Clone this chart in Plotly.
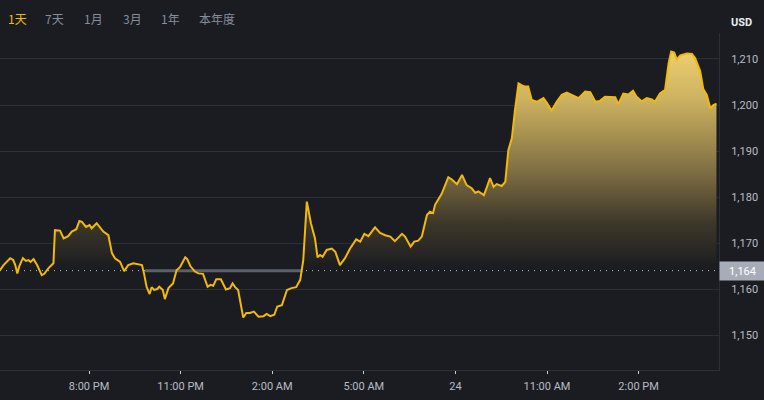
import pandas as pd
import plotly.graph_objects as go

# ---------------- data ----------------
start_time = "2024-10-23 17:00"
minutes = [5, 12, 25, 31, 35, 39, 43, 50, 56, 61,
           65, 71, 78, 87, 92, 100, 110, 113, 123, 130,
           139, 146, 155, 161, 166, 174, 181, 185, 195, 202,
           208, 218, 225, 231, 241, 249, 257, 267, 274, 284,
           288, 293, 299, 303, 308, 314, 318, 325, 329, 336,
           345, 352, 359, 369, 373, 379, 388, 395, 404, 413,
           419, 424, 430, 439, 449, 457, 462, 467, 473, 483,
           489, 496, 504, 513, 523, 529, 536, 544, 550, 559,
           569, 578, 587, 595, 601, 608, 616, 624, 629, 634,
           639, 647, 657, 664, 673, 683, 693, 705, 713, 721,
           729, 742, 752, 762, 772, 781, 795, 801, 812, 819,
           827, 834, 844, 850, 856, 860, 873, 886, 893, 903,
           913, 922, 932, 939, 945, 956, 962, 968, 975, 981,
           991, 998, 1004, 1011, 1017, 1024, 1030, 1037, 1043, 1050,
           1060, 1066, 1073, 1080, 1089, 1099, 1109, 1119, 1129, 1142,
           1155, 1165, 1175, 1184, 1194, 1207, 1214, 1220, 1230, 1240,
           1249, 1256, 1266, 1276, 1286, 1292, 1302, 1312, 1319, 1324,
           1330, 1335, 1342, 1355, 1365, 1371, 1381, 1387, 1394, 1401,
           1407, 1413]
prices = [1164.1, 1165.2, 1166.7, 1166.3, 1165.2, 1163.4, 1165.0, 1166.7, 1166.1, 1166.3,
          1165.9, 1166.5, 1165.2, 1163.0, 1163.3, 1164.5, 1165.6, 1172.8, 1172.7, 1171.0,
          1171.5, 1172.5, 1173.0, 1174.8, 1174.6, 1173.5, 1173.9, 1173.2, 1174.3, 1173.4,
          1172.5, 1171.7, 1167.8, 1166.7, 1165.9, 1163.9, 1165.2, 1165.6, 1165.4, 1165.2,
          1163.4, 1160.5, 1158.9, 1160.4, 1159.8, 1160.0, 1160.5, 1159.8, 1157.8, 1160.2,
          1161.2, 1164.1, 1164.8, 1166.9, 1166.5, 1165.0, 1163.8, 1163.4, 1163.3, 1160.5,
          1160.9, 1160.7, 1162.1, 1162.1, 1159.9, 1160.2, 1161.2, 1160.4, 1159.8, 1153.8,
          1154.8, 1154.8, 1155.1, 1154.0, 1154.1, 1154.6, 1154.1, 1154.4, 1156.2, 1156.5,
          1159.8, 1160.2, 1160.4, 1162.0, 1166.3, 1179.0, 1174.3, 1171.0, 1166.9, 1167.4,
          1167.0, 1168.5, 1168.8, 1168.1, 1165.2, 1166.7, 1168.8, 1170.8, 1170.3, 1172.0,
          1171.5, 1173.4, 1172.2, 1171.7, 1171.4, 1170.4, 1172.0, 1171.4, 1169.2, 1170.3,
          1170.5, 1171.4, 1176.1, 1176.8, 1176.5, 1178.3, 1180.7, 1184.3, 1183.8, 1182.8,
          1184.8, 1182.6, 1181.9, 1180.9, 1181.2, 1180.4, 1182.2, 1184.1, 1182.2, 1182.8,
          1182.4, 1183.3, 1190.2, 1192.8, 1198.9, 1204.7, 1204.3, 1204.0, 1204.0, 1201.1,
          1200.7, 1201.1, 1201.5, 1200.4, 1198.8, 1200.7, 1202.2, 1202.7, 1202.2, 1201.5,
          1202.9, 1202.8, 1200.7, 1200.9, 1201.8, 1201.7, 1201.7, 1200.2, 1202.5, 1202.3,
          1203.1, 1201.8, 1200.8, 1201.5, 1201.2, 1200.7, 1202.5, 1203.3, 1209.1, 1211.6,
          1211.4, 1209.9, 1210.8, 1211.2, 1211.1, 1210.2, 1207.4, 1203.5, 1202.2, 1199.3,
          1200.0, 1200.3]
base_price = 1164
base_label = "1,164"
band_times = ["2024-10-23 21:50", "2024-10-24 03:00"]
x_range = ["2024-10-23 17:05", "2024-10-24 16:38"]
y_range = [1142.4, 1215.65]
y_ticks = [1150, 1160, 1170, 1180, 1190, 1200, 1210]
x_tick_times = ["2024-10-23 20:00", "2024-10-23 23:00", "2024-10-24 02:00",
                "2024-10-24 05:00", "2024-10-24 08:00", "2024-10-24 11:00",
                "2024-10-24 14:00"]
x_tick_labels = ["8:00 PM", "11:00 PM", "2:00 AM", "5:00 AM", "24", "11:00 AM", "2:00 PM"]
range_buttons = ["1天", "7天", "1月", "3月", "1年", "本年度"]
currency = "USD"

# ---------------- figure ----------------
times = pd.Timestamp(start_time) + pd.to_timedelta(minutes, unit="min")

BG = "#1b1c21"
GRID = "#2b2f36"
GOLD = "#f0b90b"
TXT = "#b7bdc6"

W, H = 764, 400
ML, MR, MT, MB = 0, 45, 33, 30
PW, PH = W - ML - MR, H - MT - MB


def px(x):
    return (x - ML) / PW


def py(y):
    return (H - MB - y) / PH


fig = go.Figure()

fig.add_trace(go.Scatter(
    x=band_times, y=[base_price, base_price], mode="lines",
    line=dict(color="#5b606a", width=3), hoverinfo="skip", showlegend=False))

fig.add_trace(go.Scatter(
    x=times, y=prices, mode="lines",
    line=dict(color=GOLD, width=2),
    fill="tozeroy",
    fillgradient=dict(
        type="vertical", start=base_price, stop=1212,
        colorscale=[[0.0, "rgba(27,28,33,0)"],
                    [0.06, "rgba(36,35,35,1)"],
                    [0.22, "rgb(62,56,42)"],
                    [0.42, "rgb(118,103,64)"],
                    [0.6, "rgb(163,142,80)"],
                    [0.78, "rgb(205,178,96)"],
                    [1.0, "rgb(238,208,112)"]]),
    showlegend=False))

fig.add_shape(type="line", xref="paper", x0=0, x1=1, yref="y",
              y0=base_price, y1=base_price, layer="below",
              line=dict(color="rgba(225,228,232,0.85)", width=1, dash="1px,5px"))

annotations = []
btn_x = [6, 43, 82, 121, 159, 197]
for i, (lab, bx) in enumerate(zip(range_buttons, btn_x)):
    annotations.append(dict(
        text=lab, xref="paper", yref="paper", x=px(bx), y=py(18.5),
        xanchor="left", yanchor="middle", showarrow=False,
        font=dict(family="Noto Sans CJK SC", size=12,
                  color=GOLD if i == 0 else "#848e9c")))
annotations.append(dict(
    text="<b>" + currency + "</b>", xref="paper", yref="paper", x=px(729), y=py(22.5),
    xanchor="left", yanchor="middle", showarrow=False,
    font=dict(family="Roboto", size=11, color="#eaecef")))
annotations.append(dict(
    text=base_label, xref="paper", yref="y", x=1, y=base_price,
    xanchor="left", yanchor="middle", showarrow=False,
    width=45, height=18, borderpad=0, bgcolor="#a7adb8", align="center",
    font=dict(family="Roboto", size=11, color="#ffffff")))

fig.update_layout(
    width=W, height=H,
    margin=dict(l=ML, r=MR, t=MT, b=MB),
    paper_bgcolor=BG, plot_bgcolor=BG,
    annotations=annotations,
    showlegend=False,
    xaxis=dict(
        type="date", range=x_range,
        tickmode="array", tickvals=x_tick_times, ticktext=x_tick_labels,
        showgrid=False, zeroline=False,
        showline=True, linecolor=GRID, linewidth=1,
        ticks="outside", ticklen=3, tickcolor="#c9cdd4", tickwidth=1,
        tickfont=dict(family="Roboto", size=11, color=TXT),
        ticklabelstandoff=3,
        fixedrange=True),
    yaxis=dict(
        side="right", range=y_range,
        tickmode="array", tickvals=y_ticks, tickformat=",",
        showgrid=True, gridcolor=GRID, gridwidth=1,
        zeroline=False, showline=True, linecolor=GRID, linewidth=1,
        ticks="", ticklabelstandoff=9,
        tickfont=dict(family="Roboto", size=11, color=TXT),
        fixedrange=True),
)

fig.write_html("out.html", config={"displayModeBar": False})
